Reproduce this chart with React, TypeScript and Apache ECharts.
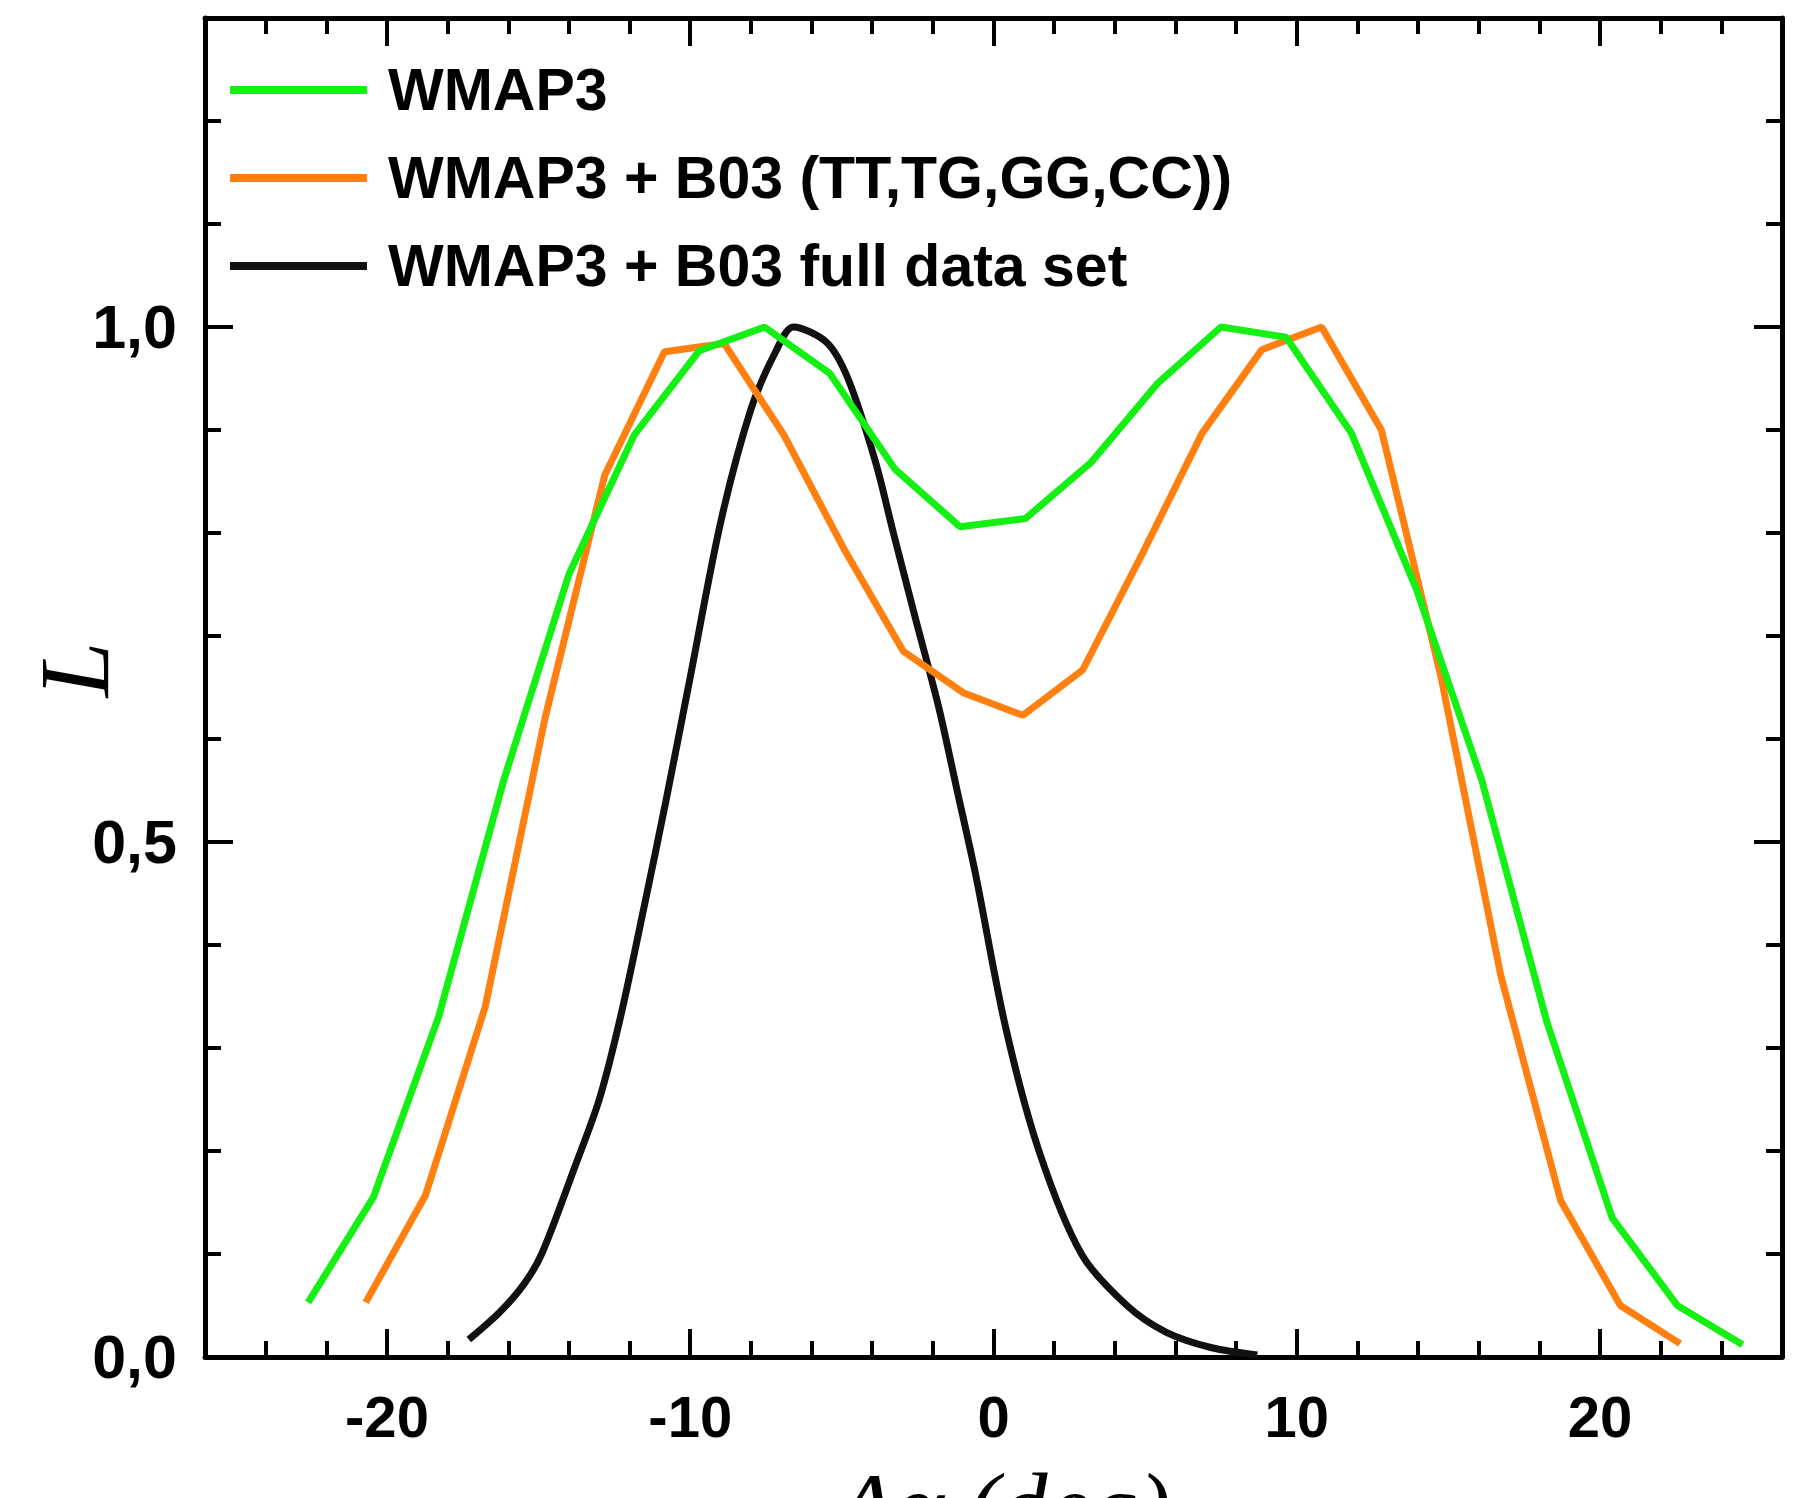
import React, { useEffect, useRef } from "react";
import * as echarts from "echarts";

// ---- data (x in deg, y = normalised likelihood) ----
const seriesNames = [
  "WMAP3",
  "WMAP3 + B03 (TT,TG,GG,CC))",
  "WMAP3 + B03 full data set",
];

const wmap3: [number, number][] = [
  [-22.6, 0.053], [-20.45, 0.155], [-18.3, 0.33], [-16.15, 0.56],
  [-14.0, 0.76], [-11.85, 0.895], [-9.7, 0.977], [-7.55, 1.0],
  [-5.4, 0.955], [-3.25, 0.862], [-1.1, 0.806], [1.05, 0.814],
  [3.2, 0.868], [5.4, 0.945], [7.5, 1.0], [9.65, 0.99],
  [11.8, 0.897], [13.95, 0.745], [16.1, 0.56], [18.25, 0.325],
  [20.4, 0.135], [22.55, 0.05], [24.7, 0.012],
];

const wmap3B03Partial: [number, number][] = [
  [-20.7, 0.053], [-18.73, 0.157], [-16.76, 0.34], [-14.79, 0.62],
  [-12.82, 0.856], [-10.85, 0.976], [-8.88, 0.984], [-6.91, 0.895],
  [-4.94, 0.785], [-2.97, 0.685], [-1.0, 0.645], [0.97, 0.623],
  [2.94, 0.667], [4.91, 0.78], [6.88, 0.897], [8.85, 0.978],
  [10.82, 1.0], [12.79, 0.9], [14.76, 0.66], [16.73, 0.37],
  [18.7, 0.152], [20.67, 0.05], [22.64, 0.013],
];

const wmap3B03Full: [number, number][] = [
  [-17.3, 0.017], [-16.3, 0.043], [-15.5, 0.07], [-14.9, 0.1],
  [-13.8, 0.185], [-13.0, 0.25], [-12.3, 0.33], [-11.5, 0.44],
  [-10.8, 0.54], [-10.0, 0.66], [-9.0, 0.81], [-8.0, 0.92],
  [-7.2, 0.975], [-6.6, 1.0], [-5.5, 0.985], [-4.8, 0.95],
  [-3.9, 0.87], [-3.3, 0.8], [-2.6, 0.72], [-1.8, 0.63],
  [-1.2, 0.55], [-0.6, 0.47], [0.4, 0.32], [1.5, 0.2],
  [2.9, 0.1], [4.4, 0.05], [5.7, 0.024], [7.2, 0.009], [8.7, 0.002],
];

const seriesColors = ["#14f014", "#ff8010", "#111111"];

const xMin = -26;
const xMax = 26;
const xMinorStep = 2;
const xMajorTicks = [-20, -10, 0, 10, 20];

const yMin = 0;
const yMax = 1.3;
const yMinorStep = 0.1;
const yMajorTicks = [0, 0.5, 1.0];

const xTitle = "Δα (deg)";
const yTitle = "L";

const labelFont = "'Liberation Sans', Arial, sans-serif";
const serifFont = "'Liberation Serif', 'DejaVu Serif', serif";

export default function App() {
  const ref = useRef<HTMLDivElement>(null);

  useEffect(() => {
    document.body.style.margin = "0";
    document.body.style.overflow = "hidden";
    if (!ref.current) return;
    const chart = echarts.init(ref.current, undefined, { renderer: "svg" });

    const black = "#000";
    const line = { show: true, onZero: false, lineStyle: { color: black, width: 5 } };
    const noLine = { show: false, onZero: false };
    const tickStyle = { color: black, width: 4 };

    const minorX = (position: "top" | "bottom") => ({
      type: "value",
      position,
      min: xMin,
      max: xMax,
      interval: xMinorStep,
      axisLine: line,
      axisTick: { show: true, inside: true, length: 16, lineStyle: tickStyle },
      axisLabel: { show: false },
      splitLine: { show: false },
    });
    const minorY = (position: "left" | "right") => ({
      type: "value",
      position,
      min: yMin,
      max: yMax,
      interval: yMinorStep,
      axisLine: line,
      axisTick: { show: true, inside: true, length: 16, lineStyle: tickStyle },
      axisLabel: { show: false },
      splitLine: { show: false },
    });

    chart.setOption({
      animation: false,
      backgroundColor: "#fff",
      grid: {
        left: 205,
        right: 12,
        top: 18,
        bottom: 141,
        containLabel: false,
        outerBoundsMode: "none",
      },
      legend: {
        orient: "vertical",
        left: 230,
        top: 58,
        padding: 0,
        icon: "rect",
        itemWidth: 137,
        itemHeight: 8,
        itemGap: 24,
        textStyle: {
          fontFamily: labelFont,
          fontWeight: "bold",
          fontSize: 59,
          lineHeight: 64,
          color: black,
          padding: [0, 0, 0, 16],
        },
        data: seriesNames,
      },
      xAxis: [
        minorX("bottom"),
        {
          type: "value",
          position: "bottom",
          min: xMin,
          max: xMax,
          axisLine: noLine,
          axisTick: { show: true, inside: true, length: 28, customValues: xMajorTicks, lineStyle: tickStyle },
          axisLabel: {
            customValues: xMajorTicks,
            margin: 30,
            fontFamily: labelFont,
            fontWeight: "bold",
            fontSize: 58,
            color: black,
            formatter: (v: number) => String(v),
          },
          splitLine: { show: false },
          name: xTitle,
          nameLocation: "middle",
          nameGap: 101,
          nameTextStyle: {
            fontFamily: serifFont,
            fontStyle: "italic",
            fontSize: 96,
            color: black,
            padding: [0, 0, 0, 20],
          },
        },
        minorX("top"),
        {
          type: "value",
          position: "top",
          min: xMin,
          max: xMax,
          axisLine: noLine,
          axisTick: { show: true, inside: true, length: 28, customValues: xMajorTicks, lineStyle: tickStyle },
          axisLabel: { show: false },
          splitLine: { show: false },
        },
      ],
      yAxis: [
        {
          ...minorY("left"),
          name: yTitle,
          nameLocation: "middle",
          nameGap: 81,
          nameTextStyle: {
            fontFamily: serifFont,
            fontStyle: "italic",
            fontSize: 100,
            color: black,
            padding: [0, 0, 0, 36],
          },
        },
        {
          type: "value",
          position: "left",
          min: yMin,
          max: yMax,
          axisLine: noLine,
          axisTick: { show: true, inside: true, length: 28, customValues: yMajorTicks, lineStyle: tickStyle },
          axisLabel: {
            customValues: yMajorTicks,
            margin: 28,
            fontFamily: labelFont,
            fontWeight: "bold",
            fontSize: 61,
            color: black,
            formatter: (v: number) => v.toFixed(1).replace(".", ","),
          },
          splitLine: { show: false },
        },
        minorY("right"),
        {
          type: "value",
          position: "right",
          min: yMin,
          max: yMax,
          axisLine: noLine,
          axisTick: { show: true, inside: true, length: 28, customValues: yMajorTicks, lineStyle: tickStyle },
          axisLabel: { show: false },
          splitLine: { show: false },
        },
      ],
      series: [wmap3, wmap3B03Partial, wmap3B03Full].map((d, i) => ({
        name: seriesNames[i],
        type: "line",
        xAxisIndex: 0,
        yAxisIndex: 0,
        data: d,
        symbol: "none",
        showSymbol: false,
        smooth: i === 2 ? 0.3 : false,
        lineStyle: { color: seriesColors[i], width: 7 },
        itemStyle: { color: seriesColors[i] },
        z: 3 - i,
      })),
    });

    return () => chart.dispose();
  }, []);

  return <div ref={ref} style={{ width: 1794, height: 1498 }} />;
}
